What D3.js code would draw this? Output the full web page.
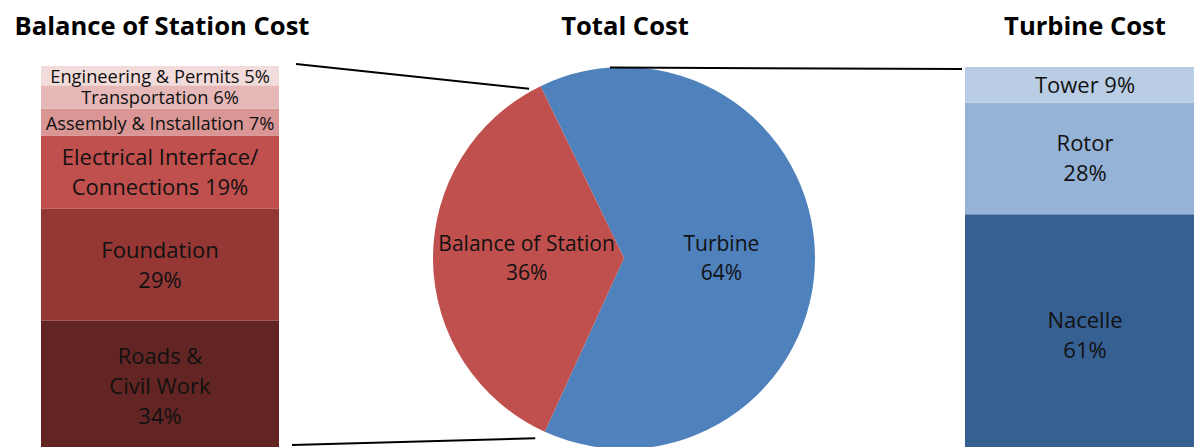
<!DOCTYPE html>
<html>
<head>
<meta charset="utf-8">
<script src="https://cdn.jsdelivr.net/npm/d3@7"></script>
<style>
  html, body { margin: 0; padding: 0; background: #fff; overflow: hidden; }
  svg { display: block; font-family: "Open Sans", sans-serif; }
</style>
</head>
<body>
<svg id="chart" width="1194" height="447"></svg>
<script>
// ---------- data ----------
const pieCategories = ["Turbine", "Balance of Station"];
const pieValues = [64, 36];
const pieColors = ["#4F81BD", "#C0504D"];

const bosCategories = ["Roads & Civil Work", "Foundation", "Electrical Interface/ Connections",
                       "Assembly & Installation", "Transportation", "Engineering & Permits"];
const bosValues = [34, 29, 19, 7, 6, 5];
const bosLabelLines = [["Roads &", "Civil Work"], ["Foundation"], ["Electrical Interface/", "Connections"],
                       ["Assembly & Installation"], ["Transportation"], ["Engineering & Permits"]];
const bosValueOwnLine = [true, true, false, false, false, false];
const bosColors = ["#632523", "#953735", "#C0504D", "#D99694", "#E6B9B8", "#F2DCDB"];

const turbCategories = ["Nacelle", "Rotor", "Tower"];
const turbValues = [61, 28, 9];
const turbLabelLines = [["Nacelle"], ["Rotor"], ["Tower"]];
const turbValueOwnLine = [true, true, false];
const turbColors = ["#366092", "#95B3D7", "#B9CDE5"];

const titles = ["Balance of Station Cost", "Total Cost", "Turbine Cost"];

// ---------- layout ----------
const svg = d3.select("#chart");
const W = 1194, H = 447;
const cx = 624, cy = 258, R = 191;
const leftBar = { x0: 41, x1: 279, top: 66, bottom: 452 };
const rightBar = { x0: 965, x1: 1205, top: 67, bottom: 457 };
const bigFont = 22, smallFont = 18.3, lineH = 30;
const textColor = "#111";

// titles
const titleX = [162, 625, 1085];
svg.selectAll("text.title").data(titles).join("text")
  .attr("class", "title")
  .attr("x", (d, i) => titleX[i]).attr("y", 35)
  .attr("text-anchor", "middle")
  .attr("font-weight", "bold").attr("font-size", 25.6)
  .attr("fill", "#000")
  .text(d => d);

// ---------- stacked bar helper ----------
function stackedBar(bar, cats, vals, lines, ownLine, colors) {
  const total = d3.sum(vals);
  const y = d3.scaleLinear().domain([0, total]).range([bar.bottom, bar.top]);
  let cum = 0;
  const segs = vals.map((v, i) => { const s = { i, cat: cats[i], v, lo: cum, hi: cum + v }; cum += v; return s; });
  const g = svg.append("g");
  g.selectAll("rect").data(segs).join("rect")
    .attr("x", bar.x0).attr("width", bar.x1 - bar.x0)
    .attr("y", d => y(d.hi)).attr("height", d => y(d.lo) - y(d.hi))
    .attr("fill", d => colors[d.i]);
  const cxBar = (bar.x0 + bar.x1) / 2;
  segs.forEach(d => {
    const ls = lines[d.i].slice();
    if (ownLine[d.i]) ls.push(d.v + "%");
    else ls[ls.length - 1] = ls[ls.length - 1] + " " + d.v + "%";
    const single = lines[d.i].length === 1 && !ownLine[d.i];
    const fs = (single && d.v < 8) ? smallFont : bigFont;
    const mid = (y(d.hi) + y(d.lo)) / 2;
    ls.forEach((t, k) => {
      g.append("text")
        .attr("x", cxBar)
        .attr("y", mid + (k - (ls.length - 1) / 2) * lineH + 0.357 * fs + (fs === smallFont ? 1 : 0))
        .attr("text-anchor", "middle")
        .attr("font-size", fs)
        .attr("fill", textColor)
        .text(t);
    });
  });
}

stackedBar(leftBar, bosCategories, bosValues, bosLabelLines, bosValueOwnLine, bosColors);
stackedBar(rightBar, turbCategories, turbValues, turbLabelLines, turbValueOwnLine, turbColors);

// ---------- pie ----------
const startAngle = -0.452;
const pie = d3.pie().sort(null).startAngle(startAngle).endAngle(startAngle + 2 * Math.PI);
const arcs = pie(pieValues);
const arc = d3.arc().innerRadius(0).outerRadius(R);
const labelArc = d3.arc().innerRadius(R * 0.51).outerRadius(R * 0.51);
const pg = svg.append("g").attr("transform", `translate(${cx},${cy})`);
pg.selectAll("path").data(arcs).join("path")
  .attr("d", arc).attr("fill", (d, i) => pieColors[i]);
arcs.forEach((d, i) => {
  const [lx] = labelArc.centroid(d);
  const ly = 0;
  const ls = [pieCategories[i], pieValues[i] + "%"];
  ls.forEach((t, k) => {
    pg.append("text")
      .attr("x", lx)
      .attr("y", ly + (k - 0.5) * 29 + 0.357 * 21)
      .attr("text-anchor", "middle")
      .attr("font-size", 21)
      .attr("fill", textColor)
      .text(t);
  });
});

// ---------- connector lines ----------
function piePoint(angle, rad) { return [cx + rad * Math.sin(angle), cy - rad * Math.cos(angle)]; }
const bos = arcs[1], turb = arcs[0];
const deg = Math.PI / 180;
const conn = [
  [[leftBar.x1 + 17, leftBar.top - 2], piePoint(bos.endAngle - 3.4 * deg, R + 3)],
  [[leftBar.x1 + 13, H - 2], piePoint(bos.startAngle + 1.7 * deg, R + 10)],
  [piePoint(turb.startAngle + 21.7 * deg, R), [rightBar.x0 - 3, rightBar.top + 2]]
];
svg.selectAll("line.conn").data(conn).join("line")
  .attr("class", "conn")
  .attr("x1", d => d[0][0]).attr("y1", d => d[0][1])
  .attr("x2", d => d[1][0]).attr("y2", d => d[1][1])
  .attr("stroke", "#000").attr("stroke-width", 2);
</script>
</body>
</html>
